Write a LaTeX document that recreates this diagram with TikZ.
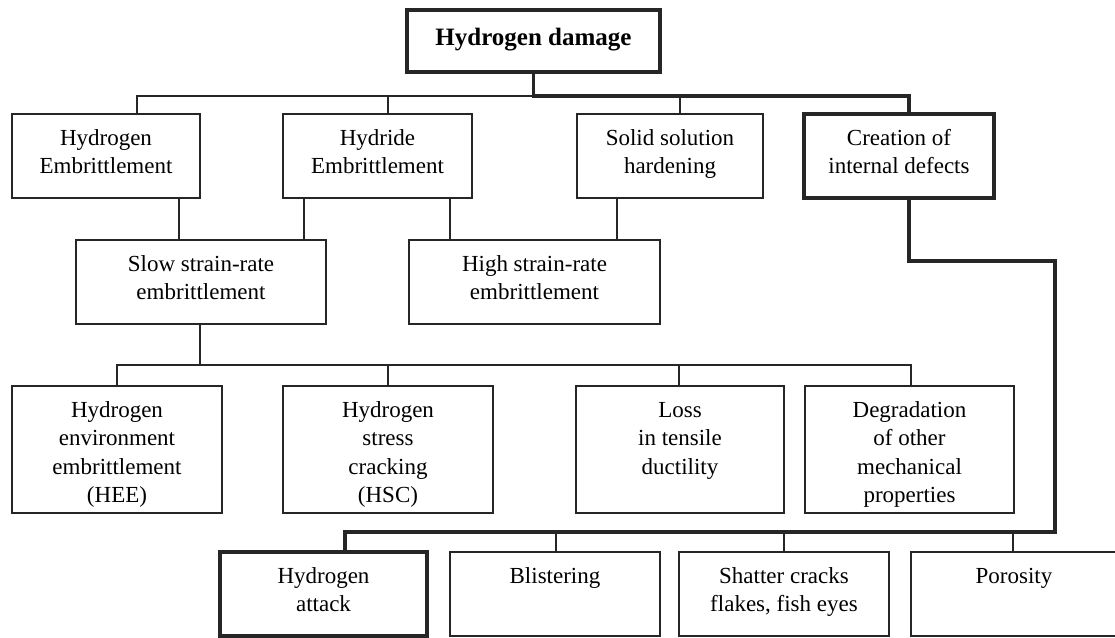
\documentclass[tikz,border=0pt]{standalone}
\usepackage{fontspec}
\setmainfont{Liberation Serif}
\newcommand{\boxtext}[3]{\parbox[t][#2pt][t]{#1pt}{\centering\rule{0pt}{31pt}#3}}
\begin{document}
\begin{tikzpicture}[x=1pt,y=-1pt,
  bx/.style={draw=black!85, line width=1.3pt, inner sep=0pt, outer sep=0pt, anchor=north west, font=\fontsize{23}{28.5}\selectfont},
  bxb/.style={bx, line width=3.6pt},
  cn/.style={draw=black!85, line width=1.3pt},
  cnb/.style={draw=black!85, line width=3.6pt}]
\useasboundingbox (0,0) rectangle (1115,637);
\clip (0,0) rectangle (1115,637);
% top
\node[bxb, font=\fontsize{25}{30}\selectfont\bfseries] (top) at (407,10)
  {\parbox[t][62pt][t]{253pt}{\centering\rule{0pt}{35pt}Hydrogen damage}};
% row 1
\node[bx] (he) at (12,114) {\boxtext{188}{84}{Hydrogen\\Embrittlement}};
\node[bx] (hy) at (283,114) {\boxtext{189}{84}{Hydride\\Embrittlement}};
\node[bx] (so) at (577,114) {\boxtext{186}{84}{Solid solution\\hardening}};
\node[bxb] (cr) at (804,114) {\boxtext{190}{84}{Creation of\\internal defects}};
% row 2
\node[bx] (sl) at (76,240) {\boxtext{250}{84}{Slow strain-rate\\embrittlement}};
\node[bx] (hi) at (409,240) {\boxtext{251}{84}{High strain-rate\\embrittlement}};
% row 3
\node[bx] (hee) at (12,386) {\boxtext{210}{127}{Hydrogen\\environment\\embrittlement\\(HEE)}};
\node[bx] (hsc) at (283,386) {\boxtext{210}{127}{Hydrogen\\stress\\cracking\\(HSC)}};
\node[bx] (lo) at (576,386) {\boxtext{208}{127}{Loss\\in tensile\\ductility}};
\node[bx] (deg) at (805,386) {\boxtext{209}{127}{Degradation\\of other\\mechanical\\properties}};
% row 4
\node[bxb] (ha) at (220,552) {\boxtext{207}{84}{Hydrogen\\attack}};
\node[bx] (bl) at (450,552) {\boxtext{210}{84}{Blistering}};
\node[bx] (sh) at (679,552) {\boxtext{210}{84}{Shatter cracks\\flakes, fish eyes}};
\node[bx] (po) at (911,552) {\boxtext{206}{84}{Porosity}};
% connectors top -> row 1
\draw[cn] ([xshift=125pt]he.north west) |- ([yshift=-24pt]top.south);
\draw[cn] ([xshift=105pt]hy.north west) -- ++(0,-18);
\draw[cn] ([xshift=103pt]so.north west) -- ++(0,-18);
\draw[cnb] (top.south) -- ++(0,24) -| ([xshift=105pt]cr.north west);
% row 1 -> row 2
\draw[cn] ([xshift=167pt]he.south west) -- ([xshift=103pt]sl.north west);
\draw[cn] ([xshift=21pt]hy.south west) -- ([xshift=228pt]sl.north west);
\draw[cn] ([xshift=167pt]hy.south west) -- ([xshift=41pt]hi.north west);
\draw[cn] ([xshift=40pt]so.south west) -- ([xshift=208pt]hi.north west);
% row 2 -> row 3
\draw[cn] ([xshift=124pt]sl.south west) -- ++(0,41) coordinate (b2);
\draw[cn] ([xshift=105pt]hee.north west) |- (b2) -| ([xshift=106pt]deg.north west);
\draw[cn] ([xshift=105pt]hsc.north west) -- ++(0,-21);
\draw[cn] ([xshift=103pt]lo.north west) -- ++(0,-21);
% creation -> row 4
\draw[cn] ([xshift=106pt]bl.north west) -- ++(0,-20);
\draw[cn] ([xshift=105pt]sh.north west) -- ++(0,-20);
\draw[cn] ([xshift=102pt]po.north west) -- ++(0,-20);
\draw[cnb] ([xshift=105pt]cr.south west) -- ++(0,63) -- ++(146,0) -- ++(0,271) -| ([xshift=125pt]ha.north west);
\end{tikzpicture}
\end{document}
